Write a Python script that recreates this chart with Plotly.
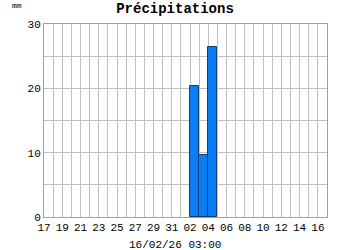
import plotly.graph_objects as go

dates = ["2026-02-02", "2026-02-03", "2026-02-04"]
precip_mm = [20.3, 9.6, 26.4]
title = "Précipitations"
unit = "mm"
stamp = "16/02/26 03:00"
x_start, x_end = "2026-01-17", "2026-02-17"

xc = [d + " 12:00" for d in dates]

fig = go.Figure()
fig.add_trace(go.Bar(
    x=xc, y=precip_mm, width=[86400000] * len(xc),
    marker=dict(color="#0a7cf5", line=dict(color="#173c6e", width=1)),
))

font_mono = "Liberation Mono, Courier New, monospace"
fig.update_layout(
    width=350, height=250,
    margin=dict(l=44, r=23, t=24, b=33),
    paper_bgcolor="white", plot_bgcolor="white",
    showlegend=False,
    bargap=0,
    title=dict(text="<b>" + title + "</b>", x=0.5, xanchor="center", y=0.968, yanchor="middle",
               font=dict(family=font_mono, size=14, color="black")),
    font=dict(family=font_mono, size=11, color="black"),
)
fig.update_xaxes(
    type="date", range=[x_start, x_end],
    tick0=x_start, dtick=2 * 86400000, tickformat="%d",
    showgrid=True, gridcolor="#c0c0c0", gridwidth=1,
    minor=dict(dtick=86400000, tick0=x_start, showgrid=True, gridcolor="#c0c0c0", gridwidth=1),
    showline=True, linecolor="#a0a0a0", mirror=True,
    ticks="", tickfont=dict(family=font_mono, size=11, color="black"),
    zeroline=False,
)
fig.update_yaxes(
    range=[0, 30], tickvals=[0, 10, 20, 30],
    showgrid=True, gridcolor="#c0c0c0", gridwidth=1,
    minor=dict(dtick=5, showgrid=True, gridcolor="#c0c0c0", gridwidth=1),
    showline=True, linecolor="#a0a0a0", mirror=True,
    ticks="", ticklen=0, tickfont=dict(family=font_mono, size=11, color="black"),
    zeroline=False,
)
fig.add_annotation(text=unit, x=(10 - 44) / 283, y=(217 - 5) / 193, xref="paper", yref="paper",
                   xanchor="left", yanchor="middle", showarrow=False,
                   font=dict(family=font_mono, size=8, color="black"))
fig.add_annotation(text=stamp, x=(175 - 44) / 283, y=(217 - 245) / 193, xref="paper", yref="paper",
                   xanchor="center", yanchor="middle", showarrow=False,
                   font=dict(family=font_mono, size=11, color="black"))
fig.write_html("out.html")
